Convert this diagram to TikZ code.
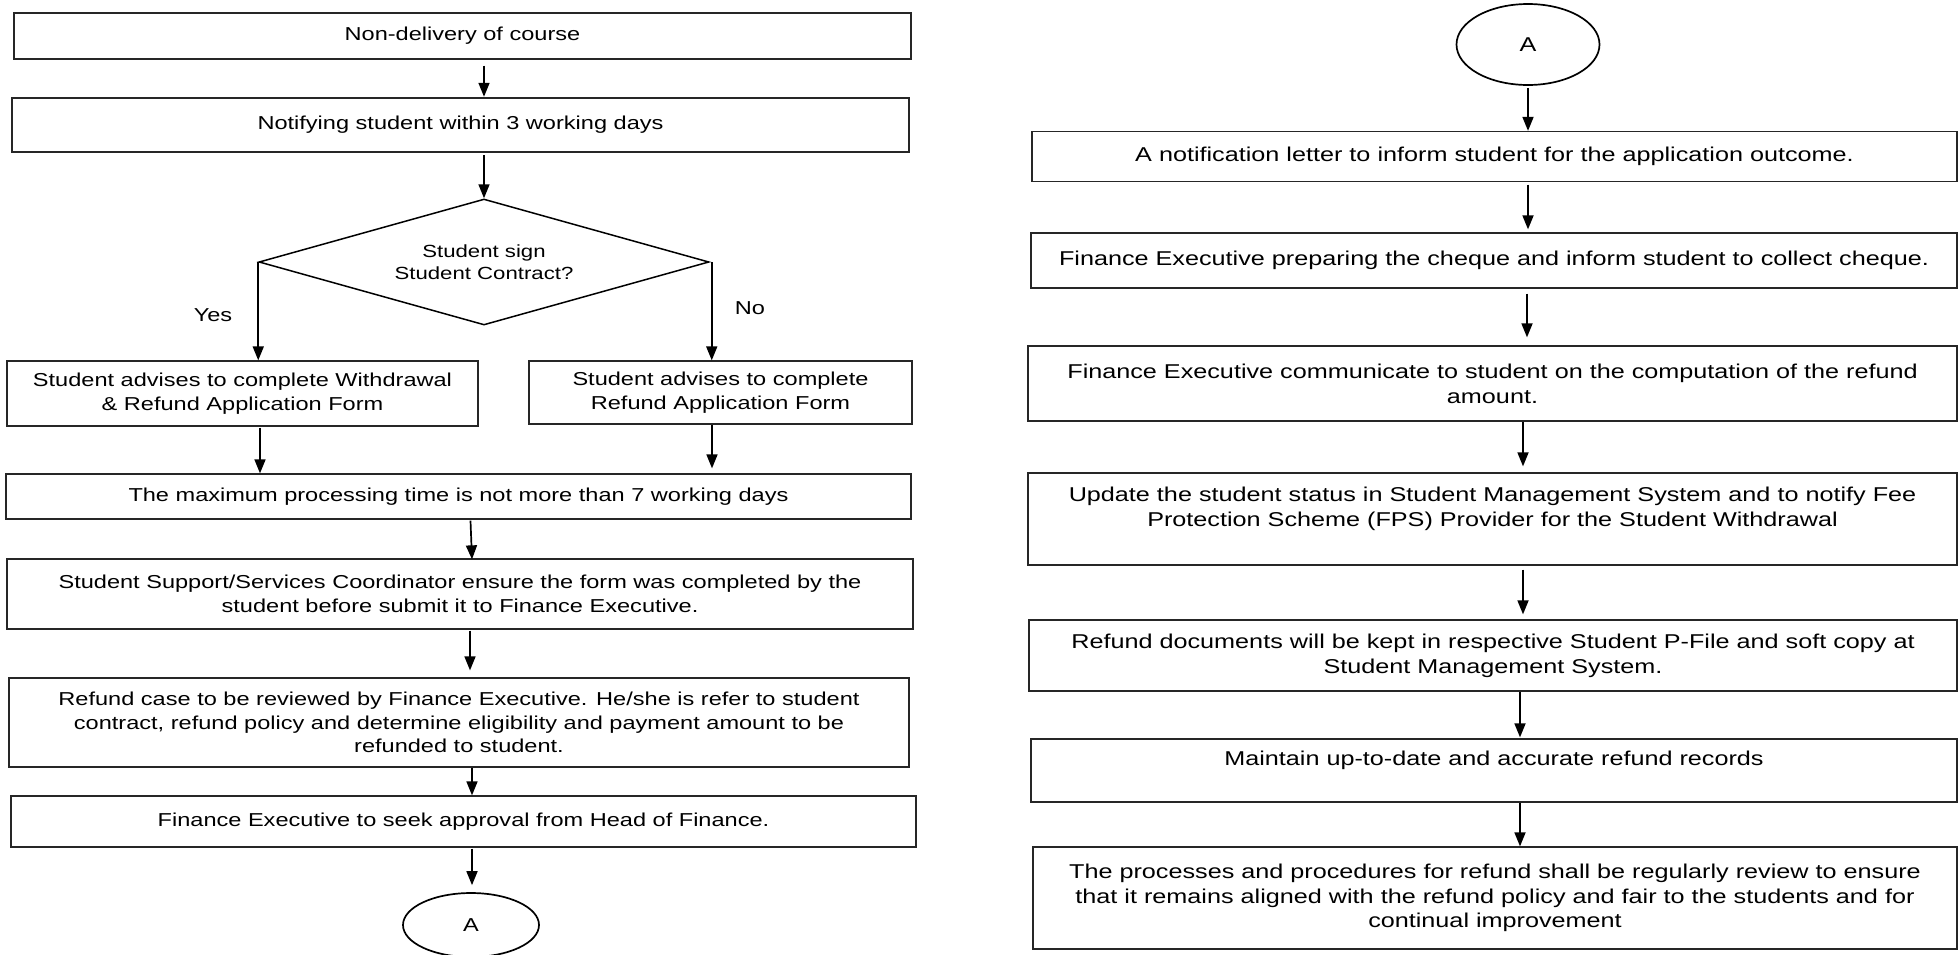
\documentclass[tikz,border=0pt]{standalone}
\usepackage{fontspec}
\setmainfont{Liberation Sans}[FakeStretch=1.26]
\usetikzlibrary{shapes.geometric,arrows.meta}
\newcommand\lfnt{\fontsize{18.7}{23.5}\selectfont}
\newcommand\rfnt{\fontsize{20}{24.7}\selectfont}
\newcommand\dfnt{\fontsize{17.6}{22}\selectfont}
\begin{document}
\begin{tikzpicture}[x=1pt,y=-1pt,
  box/.style={draw=black!85,line width=1.3pt,inner sep=0pt,align=center,rectangle},
  lbox/.style={box,font=\lfnt},
  rbox/.style={box,font=\rfnt},
  arr/.style={draw=black,line width=1.7pt,-{Triangle[length=14pt,width=11pt]}},
  dec/.style={draw=black,line width=1.5pt,shape=diamond,inner sep=0pt,aspect=3.57,align=center,font=\dfnt},
  conn/.style={draw=black,line width=1.7pt,shape=ellipse,inner sep=0pt},
  lbl/.style={font=\lfnt,inner sep=0pt}
]
\useasboundingbox (0,0) rectangle (1959,954);

% ---------- left column ----------
\node[lbox,minimum width=897pt,minimum height=46pt] (b1) at (462.5,36) {Non-delivery of course};
\node[lbox,line width=2.5pt,minimum width=897pt,minimum height=54pt] (b2) at (460.5,125) {Notifying student within 3 working days};
\node[dec,minimum width=450pt,minimum height=126pt] (d) at (484,262) {Student sign\\Student Contract?};
\node[lbl] (yes) at (213,315) {Yes};
\node[lbl] (no) at (750,308) {No};
\node[lbox,minimum width=471pt,minimum height=65pt] (b3l) at (242.5,393.5) {Student advises to complete Withdrawal\\\& Refund Application Form};
\node[lbox,minimum width=383pt,minimum height=63pt] (b3r) at (720.5,392.5) {Student advises to complete\\Refund Application Form};
\node[lbox,minimum width=905pt,minimum height=45pt] (b4) at (458.5,496.5) {The maximum processing time is not more than 7 working days};
\node[lbox,minimum width=906pt,minimum height=70pt] (b5) at (460,594) {Student Support/Services Coordinator ensure the form was completed by the\\student before submit it to Finance Executive.};
\node[lbox,minimum width=900pt,minimum height=89pt] (b6) at (459,722.5) {Refund case to be reviewed by Finance Executive. He/she is refer to student\\contract, refund policy and determine eligibility and payment amount to be\\refunded to student.};
\node[lbox,minimum width=905pt,minimum height=51pt] (b7) at (463.5,821.5) {Finance Executive to seek approval from Head of Finance.};
\node[conn,font=\lfnt,minimum width=136pt,minimum height=64pt] (ca1) at (471,925) {A};

\coordinate (s1) at ([xshift=21.5pt,yshift=-6pt]b1.south);
\draw[arr] (s1) -- (s1 |- b2.north);
\coordinate (s2) at ([xshift=23.5pt,yshift=-2pt]b2.south);
\draw[arr] (s2) -- (d.north);
\draw[arr] (d.west) -- (d.west |- b3l.north);
\coordinate (s3) at ([xshift=2pt]d.east);
\draw[arr] (s3) -- (s3 |- b3r.north);
\coordinate (s4) at ([xshift=17.5pt,yshift=-1pt]b3l.south);
\draw[arr] (s4) -- (s4 |- b4.north);
\coordinate (s5) at ([xshift=-8.5pt]b3r.south);
\draw[arr,shorten >=5pt] (s5) -- (s5 |- b4.north);
\coordinate (s6) at ([xshift=12pt,yshift=-1pt]b4.south);
\coordinate (e6) at ([xshift=12pt,yshift=-1pt]b5.north);
\draw[arr] (s6) -- (e6);
\coordinate (s7) at ([xshift=10pt,yshift=-1pt]b5.south);
\draw[arr,shorten >=7pt] (s7) -- (s7 |- b6.north);
\coordinate (s8) at ([xshift=13pt]b6.south);
\draw[arr] (s8) -- (s8 |- b7.north);
\coordinate (s9) at ([xshift=8.5pt,yshift=-1pt]b7.south);
\draw[arr,shorten >=7pt] (s9) -- (s9 |- ca1.north);

% ---------- right column ----------
\node[conn,font=\rfnt,minimum width=143pt,minimum height=81pt] (ca2) at (1528,44.5) {A};
\node[rbox,minimum width=925pt,minimum height=50pt] (r1) at (1494.5,156.5) {A notification letter to inform student for the application outcome.};
\node[rbox,minimum width=926pt,minimum height=55pt] (r2) at (1494,260.5) {Finance Executive preparing the cheque and inform student to collect cheque.};
\node[rbox,minimum width=929pt,minimum height=75pt] (r3) at (1492.5,383.5) {Finance Executive communicate to student on the computation of the refund\\amount.};
\node[rbox,minimum width=929pt,minimum height=92pt] (r4) at (1492.5,519) {Update the student status in Student Management System and to notify Fee\\Protection Scheme (FPS) Provider for the Student Withdrawal\\\mbox{}};
\node[rbox,minimum width=928pt,minimum height=71pt] (r5) at (1493,655.5) {Refund documents will be kept in respective Student P-File and soft copy at\\Student Management System.};
\node[rbox,minimum width=926pt,minimum height=63pt] (r6) at (1494,770.5) {Maintain up-to-date and accurate refund records\\\mbox{}};
\node[rbox,minimum width=924pt,minimum height=102pt] (r7) at (1495,898) {The processes and procedures for refund shall be regularly review to ensure\\that it remains aligned with the refund policy and fair to the students and for\\continual improvement};

\coordinate (t1) at ([yshift=-2pt]ca2.south);
\draw[arr] (t1) -- (t1 |- r1.north);
\coordinate (t2) at ([xshift=33.5pt,yshift=-2.5pt]r1.south);
\draw[arr,shorten >=3pt] (t2) -- (t2 |- r2.north);
\coordinate (t3) at ([xshift=33pt,yshift=-5pt]r2.south);
\draw[arr,shorten >=8pt] (t3) -- (t3 |- r3.north);
\coordinate (t4) at ([xshift=30.5pt]r3.south);
\draw[arr,shorten >=6pt] (t4) -- (t4 |- r4.north);
\coordinate (t5) at ([xshift=30.5pt,yshift=-4pt]r4.south);
\draw[arr,shorten >=5pt] (t5) -- (t5 |- r5.north);
\coordinate (t6) at ([xshift=27pt]r5.south);
\draw[arr,shorten >=1pt] (t6) -- (t6 |- r6.north);
\coordinate (t7) at ([xshift=26pt]r6.south);
\draw[arr] (t7) -- (t7 |- r7.north);
\end{tikzpicture}
\end{document}
